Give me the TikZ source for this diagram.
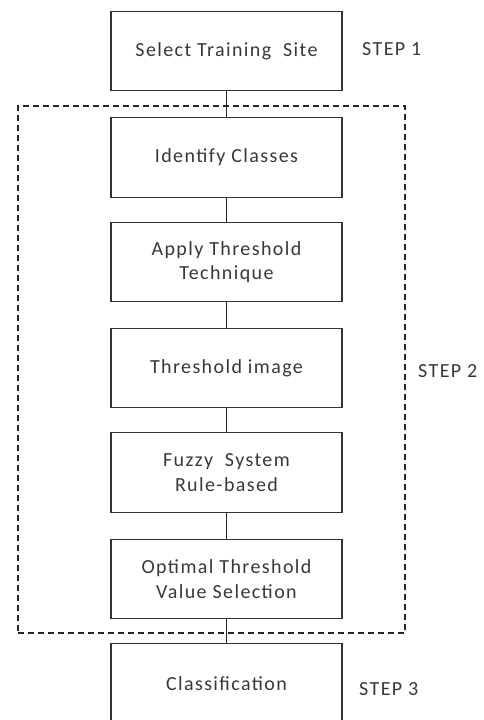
\documentclass[tikz,border=0pt]{standalone}
\usepackage{fontspec}
\setmainfont{Carlito}[LetterSpace=7]
\begin{document}
\begin{tikzpicture}[x=1pt,y=-1pt,
  stepbox/.style={draw=black!80, line width=1.3pt, minimum width=231pt, minimum height=79pt,
    inner sep=0pt, align=center, text=black!78, font=\fontsize{20}{24.5}\selectfont},
  steplabel/.style={anchor=west, inner sep=0pt, text=black!78, font=\fontsize{20}{22}\selectfont},
  frame/.style={draw=black!85, line width=1.1pt, dash pattern=on 6pt off 4pt, inner sep=0pt},
  conn/.style={draw=black!85, line width=1.2pt}]
\useasboundingbox (0,0) rectangle (484,720);
\node[frame, minimum width=387pt, minimum height=527pt] (fr) at (211.5,369.5) {};
\node[stepbox, anchor=north] (s1) at (226.5,11) {Select Training\ \ Site};
\node[stepbox, anchor=north, minimum height=80pt] (s2) at (226.5,117) {Identify Classes};
\node[stepbox, anchor=north] (s3) at (226.5,222) {Apply Threshold\\Technique};
\node[stepbox, anchor=north] (s4) at (226.5,328) {Threshold image};
\node[stepbox, anchor=north, minimum height=80pt] (s5) at (226.5,432) {Fuzzy\ \ System\\Rule-based};
\node[stepbox, anchor=north] (s6) at (226.5,539) {Optimal Threshold\\Value Selection};
\node[stepbox, anchor=north, minimum height=80pt] (s7) at (226.5,643) {Classification};
\node[steplabel] (l1) at (362,49) {STEP 1};
\node[steplabel] (l2) at (418,371) {STEP 2};
\node[steplabel] (l3) at (359,689) {STEP 3};
\draw[conn] (s1) -- (s2);
\draw[conn] (s2) -- (s3);
\draw[conn] (s3) -- (s4);
\draw[conn] (s4) -- (s5);
\draw[conn] (s5) -- (s6);
\draw[conn] (s6) -- (s7);
\end{tikzpicture}
\end{document}
